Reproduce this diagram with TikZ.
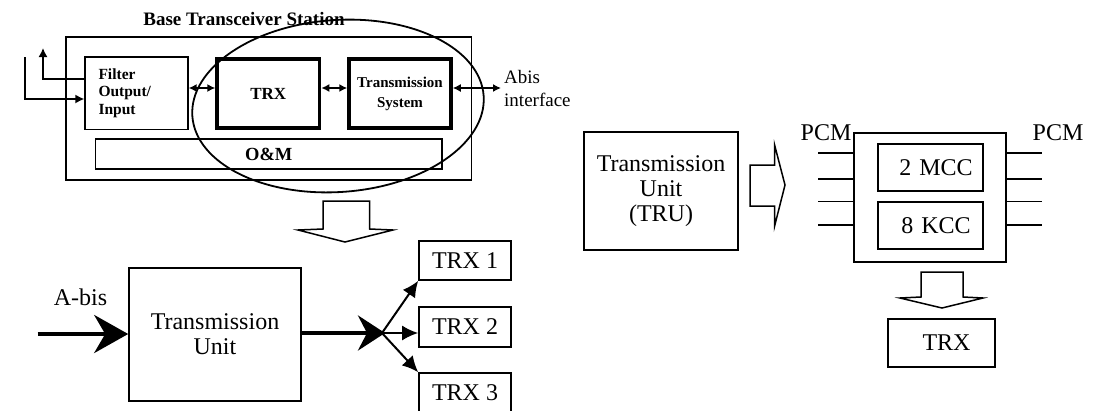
\documentclass[tikz,border=0pt]{standalone}
\usepackage{fontspec}
\setmainfont{Liberation Serif}
\usetikzlibrary{arrows.meta,calc}
\begin{document}
\begin{tikzpicture}[x=1pt,y=-1pt,
  box/.style={draw,line width=1.6pt,inner sep=0pt,align=center},
  thickbox/.style={draw,line width=3.5pt,inner sep=0pt,align=center},
  big/.style={font=\fontsize{24}{25}\selectfont},
  bsmall/.style={font=\fontsize{15.5}{17.5}\selectfont\bfseries},
  dbl/.style={line width=1.5pt,{Latex[length=8pt,width=8pt]}-{Latex[length=8pt,width=8pt]}},
  single/.style={line width=1.5pt,-{Latex[length=9pt,width=9pt]}},
  branch/.style={line width=2pt,-{Latex[length=16pt,width=15pt]}},
  hollow/.style={draw,line width=1.5pt,line join=miter,fill=white}]
\useasboundingbox (0,0) rectangle (1107,410);

% ---------- Base Transceiver Station ----------
\node[box,minimum width=405.7pt,minimum height=143.3pt] (bts) at (268.6,108.4) {};
\node[font=\fontsize{19}{21}\selectfont\bfseries] (title) at (244,19) {Base Transceiver Station};
\node[box,line width=1.3pt,minimum width=103pt,minimum height=72.5pt,text width=76pt,inner xsep=13pt,align=left,bsmall] (filter) at (136.5,93.2) {Filter\\Output/\\Input};
\node[thickbox,minimum width=102.5pt,minimum height=69pt,font=\fontsize{17}{19}\selectfont\bfseries] (trx) at (268.3,93.5) {TRX};
\node[thickbox,minimum width=102pt,minimum height=69pt,font=\fontsize{15}{20}\selectfont\bfseries] (ts) at (400,93.5) {Transmission\\System};
\node[box,minimum width=346.3pt,minimum height=30pt,font=\fontsize{18.5}{20}\selectfont\bfseries] (om) at (268.8,154) {O\&M};
\draw[line width=1.8pt,rotate around={4:(338,106)}] (338,106) ellipse [x radius=146pt, y radius=86pt];
\node[anchor=west,align=left,font=\fontsize{19}{23}\selectfont,inner sep=0pt] (abis) at (504,88.5) {Abis\\interface};

\coordinate (inA) at (25,57);
\coordinate (inB) at (25,99);
\coordinate (outA) at (43,79);
\coordinate (outB) at (43,48);
\coordinate (abisend) at (501,88);
\draw[single] (inA) -- (inB) -- (filter.west |- inB);
\draw[single] (filter.west |- outA) -- (outA) -- (outB);
\draw[dbl] (filter.east |- abisend) -- (trx.west |- abisend);
\draw[dbl] (trx.east |- abisend) -- (ts.west |- abisend);
\draw[dbl] (ts.east |- abisend) -- (abisend);

% hollow down arrow
\draw[hollow] (323,201) -- (369.5,201) -- (369.5,229) -- (393,230) -- (345,242) -- (298,230) -- (323,229) -- cycle;

% ---------- Transmission unit (bottom left) ----------
\node[box,minimum width=172pt,minimum height=133pt,big] (tu) at (215,334.5) {Transmission\\Unit};
\node[big,inner sep=0pt] (abislbl) at (80.5,297) {A-bis};
\node[box,minimum width=92pt,minimum height=39pt,big] (trx1) at (465,260.5) {TRX 1};
\node[box,minimum width=92pt,minimum height=40pt,big] (trx2) at (465,327) {TRX 2};
\node[box,minimum width=92pt,minimum height=40pt,big] (trx3) at (465,393) {TRX 3};
\coordinate (abisstart) at (37.5,334);
\coordinate (junc) at (385,333);
\draw[line width=4pt,-{Stealth[length=34pt,width=38pt,inset=11pt]}] (abisstart) -- (tu.west |- abisstart);
\draw[line width=4pt,-{Stealth[length=27pt,width=35pt,inset=9pt]}] (tu.east |- junc) -- (junc);
\draw[branch] ($(junc)+(-3,0)$) -- (trx1.south west);
\draw[branch] ($(junc)+(-3,0)$) -- (trx2.west |- junc);
\draw[branch] ($(junc)+(-3,0)$) -- (trx3.north west);

% ---------- TRU (right) ----------
\node[box,minimum width=154pt,minimum height=118pt,big] (tru) at (661,191) {Transmission\\Unit\\(TRU)};
\draw[hollow] (750,165) -- (774.6,165) -- (774.6,145) -- (785,185) -- (774.6,226) -- (774.6,206) -- (750,206) -- cycle;
\node[box,minimum width=151.5pt,minimum height=128.5pt] (main) at (930,197.5) {};
\node[box,minimum width=105pt,minimum height=47pt,big,text width=105pt,align=center] (mcc) at (930.5,167.5) {\hspace*{11pt}2 MCC};
\node[box,minimum width=105pt,minimum height=47.5pt,big,text width=105pt,align=center] (kcc) at (930.5,225.5) {\hspace*{11pt}8 KCC};
\node[big,inner sep=0pt] (pcml) at (826,133) {PCM};
\node[big,inner sep=0pt] (pcmr) at (1058,133) {PCM};
\foreach \yy in {153,179,201.5,225}{
  \draw[line width=1.6pt] (main.west |- 0,\yy) -- ++(-35,0);
  \draw[line width=1.6pt] (main.east |- 0,\yy) -- ++(35,0);
}
\draw[hollow] (921,272) -- (963,272) -- (963,297) -- (983,298) -- (942,308) -- (900,298) -- (921,297) -- cycle;
\node[box,minimum width=107pt,minimum height=48pt,big,text width=107pt,align=center] (trxr) at (941.5,343) {\hspace*{10pt}TRX};
\end{tikzpicture}
\end{document}
